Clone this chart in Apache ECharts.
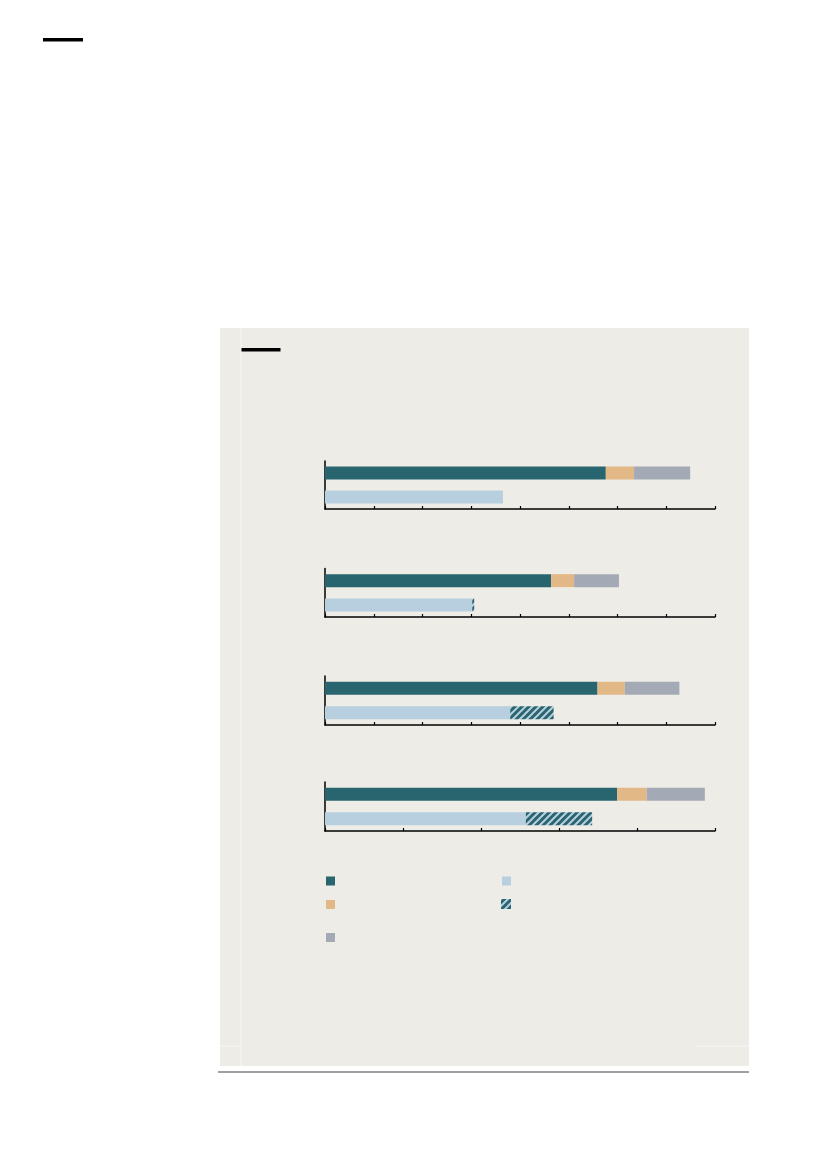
<!DOCTYPE html>
<html><head><meta charset="utf-8">
<script src="https://cdn.jsdelivr.net/npm/echarts@6/dist/echarts.min.js"></script>
<style>html,body{margin:0;padding:0;background:#fff}#c{width:827px;height:1169px}</style>
</head><body><div id="c"></div>
<script>
// ---- data ----
const seriesNames = ['dark', 'orange', 'gray', 'lightblue', 'hatch'];
const rowCategories = ['top', 'bottom'];
const darkValues = [57.6, 46.4, 55.9, 74.9];
const orangeValues = [5.8, 4.7, 5.6, 7.6];
const grayValues = [11.5, 9.2, 11.2, 14.9];
const lightBlueValues = [36.5, 30.2, 38.0, 51.5];
const hatchValues = [0, 0.4, 8.9, 17.0];
const axisMax = [80, 80, 80, 100];
const axisStep = [10, 10, 10, 20];

// ---- styles / layout ----
const gridBoxes = [
  {top: 461, height: 48},
  {top: 568.5, height: 48.5},
  {top: 676, height: 49},
  {top: 782, height: 49}
];
const T = 7;
const pc = document.createElement('canvas');
pc.width = T; pc.height = T;
const ctx = pc.getContext('2d');
ctx.fillStyle = '#28656E'; ctx.fillRect(0, 0, T, T);
ctx.strokeStyle = '#B8CFDF'; ctx.lineWidth = 2;
ctx.beginPath();
ctx.moveTo(0, T); ctx.lineTo(T, 0);
ctx.moveTo(-T / 2, T / 2); ctx.lineTo(T / 2, -T / 2);
ctx.moveTo(T / 2, T * 1.5); ctx.lineTo(T * 1.5, T / 2);
ctx.stroke();

const colors = {
  dark: '#28656E',
  orange: '#E2B887',
  gray: '#A4AAB5',
  lightblue: '#B8CFDF',
  hatch: {image: pc, repeat: 'repeat'}
};
const valuesByName = {
  dark: darkValues, orange: orangeValues, gray: grayValues,
  lightblue: lightBlueValues, hatch: hatchValues
};
const rowByName = {dark: 0, orange: 0, gray: 0, lightblue: 1, hatch: 1};
const legendPos = {
  dark: [326, 876.5, 9], orange: [326, 900, 9], gray: [326, 933, 9],
  lightblue: [502, 876.5, 9], hatch: [501, 899, 10]
};

const grid = [], xAxis = [], yAxis = [], series = [];
gridBoxes.forEach((g, i) => {
  grid.push({left: 325, width: 390, top: g.top, height: g.height, containLabel: false});
  xAxis.push({
    type: 'value', gridIndex: i, min: 0, max: axisMax[i], interval: axisStep[i],
    axisLine: {show: true, lineStyle: {color: '#000', width: 1.5}},
    axisTick: {show: true, inside: true, length: 3, lineStyle: {color: '#000', width: 1.2}},
    axisLabel: {show: false}, splitLine: {show: false}
  });
  yAxis.push({
    type: 'category', gridIndex: i, data: rowCategories, inverse: true,
    axisLine: {show: true, onZero: false, lineStyle: {color: '#000', width: 1.5}},
    axisTick: {show: false}, axisLabel: {show: false}, splitLine: {show: false}
  });
  seriesNames.forEach(n => {
    const d = [null, null];
    d[rowByName[n]] = valuesByName[n][i];
    series.push({
      type: 'bar', name: n, xAxisIndex: i, yAxisIndex: i, stack: 'g' + i,
      data: d, barWidth: 13, itemStyle: {color: colors[n]},
      silent: true, animation: false
    });
  });
});

const legend = seriesNames.map(n => ({
  data: [n], left: legendPos[n][0], top: legendPos[n][1],
  itemWidth: legendPos[n][2], itemHeight: legendPos[n][2], icon: 'rect',
  formatter: () => '', padding: 0, itemGap: 0, selectedMode: false,
  textStyle: {fontSize: 1, lineHeight: 1}
}));

const chart = echarts.init(document.getElementById('c'));
chart.setOption({
  backgroundColor: '#fff',
  animation: false,
  grid, xAxis, yAxis, series, legend,
  graphic: [
    {type: 'rect', z: -10, shape: {x: 220, y: 328, width: 529, height: 738}, style: {fill: '#EEECE7'}},
    {type: 'line', z: -9, shape: {x1: 241, y1: 328, x2: 241, y2: 1066}, style: {stroke: 'rgba(255,255,255,0.6)', lineWidth: 1}},
    {type: 'line', z: -9, shape: {x1: 220, y1: 1046, x2: 240, y2: 1046}, style: {stroke: 'rgba(255,255,255,0.6)', lineWidth: 1}},
    {type: 'line', z: -9, shape: {x1: 695, y1: 1046, x2: 749, y2: 1046}, style: {stroke: 'rgba(255,255,255,0.6)', lineWidth: 1}},
    {type: 'rect', shape: {x: 218, y: 1071, width: 531, height: 2}, style: {fill: '#a0a0a0'}},
    {type: 'rect', shape: {x: 43, y: 38, width: 40, height: 3.5}, style: {fill: '#000'}},
    {type: 'rect', shape: {x: 241.5, y: 348, width: 39, height: 3.5}, style: {fill: '#000'}}
  ]
});
</script>
</body></html>
